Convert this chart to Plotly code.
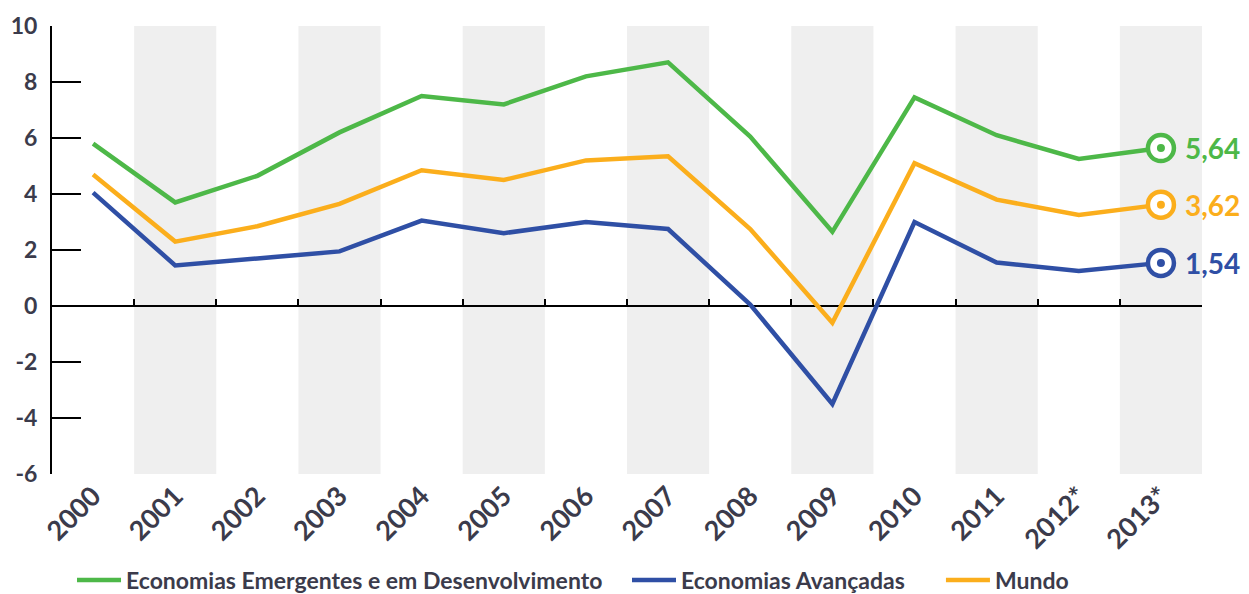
"""
Crescimento do PIB: economias emergentes, avançadas e mundo (2000-2013).
"""
import plotly.graph_objects as go

# Dados
ANOS = list(range(2000, 2014))
ROTULOS = ["2000", "2001", "2002", "2003", "2004", "2005", "2006",
           "2007", "2008", "2009", "2010", "2011", "2012*", "2013*"]
EMERGENTES = [5.8, 3.7, 4.65, 6.2, 7.5, 7.2, 8.2, 8.7, 6.05, 2.65, 7.45, 6.1, 5.25, 5.64]
AVANCADAS = [4.05, 1.45, 1.7, 1.95, 3.05, 2.6, 3.0, 2.75, 0.05, -3.5, 3.0, 1.55, 1.25, 1.54]
MUNDO = [4.7, 2.3, 2.85, 3.65, 4.85, 4.5, 5.2, 5.35, 2.75, -0.6, 5.1, 3.8, 3.25, 3.62]
TICKS_Y = [-6, -4, -2, 0, 2, 4, 6, 8, 10]

# (nome, valores, cor, legenda, posição x da legenda)
SERIES = [
    ("Economias Emergentes e em Desenvolvimento", EMERGENTES, "#4DB848", "legend", 0.0174),
    ("Economias Avançadas", AVANCADAS, "#2F4FA5", "legend2", 0.5),
    ("Mundo", MUNDO, "#FBAE1C", "legend3", 0.773),
]

Y_MIN, Y_MAX = -6, 10
FONTE = "Lato"
COR_TEXTO = "#3b3b4b"

fig = go.Figure()

for nome, valores, cor, leg, _ in SERIES:
    fig.add_trace(go.Scatter(
        x=ANOS, y=valores, name=nome, mode="lines", legend=leg,
        line=dict(color=cor, width=4.5),
        hovertemplate="%{x}: %{y:.2f}<extra>" + nome + "</extra>",
    ))

# Marcadores do último ano (anel branco + ponto central)
for nome, valores, cor, _, _ in SERIES:
    fig.add_trace(go.Scatter(
        x=[ANOS[-1]], y=[valores[-1]], mode="markers", showlegend=False,
        marker=dict(size=26, color="white", line=dict(color=cor, width=4.5)),
        hoverinfo="skip",
    ))
    fig.add_trace(go.Scatter(
        x=[ANOS[-1]], y=[valores[-1]], mode="markers", showlegend=False,
        marker=dict(size=8, color=cor),
        hoverinfo="skip",
    ))
    fig.add_annotation(
        x=ANOS[-1], y=valores[-1], xref="x", yref="y",
        text=f"{valores[-1]:.2f}".replace(".", ","),
        showarrow=False, xanchor="left", xshift=22,
        font=dict(family=FONTE, size=28, color=cor, weight="bold"),
    )

# Eixo auxiliar para a linha do zero
fig.add_trace(go.Scatter(
    x=[ANOS[0]], y=[0], xaxis="x2", mode="markers",
    marker=dict(opacity=0), showlegend=False, hoverinfo="skip",
))

# Faixas cinza nos anos alternados
for ano in ANOS[1::2]:
    fig.add_shape(
        type="rect", xref="x", yref="y",
        x0=ano - 0.5, x1=ano + 0.5, y0=Y_MIN, y1=Y_MAX,
        fillcolor="#efefef", line=dict(width=0), layer="below",
    )

legendas = {}
for _, _, _, leg, pos_x in SERIES:
    legendas[leg] = dict(
        orientation="h", x=pos_x, xanchor="left",
        yref="container", y=0.024, yanchor="middle",
        font=dict(family=FONTE, size=23, color=COR_TEXTO, weight="bold"),
        itemwidth=44, bgcolor="rgba(0,0,0,0)",
    )

fig.update_layout(
    width=1241, height=586,
    paper_bgcolor="white", plot_bgcolor="white",
    margin=dict(l=44, r=47, t=18, b=120),
    font=dict(family=FONTE, color=COR_TEXTO),
    xaxis=dict(
        range=[ANOS[0] - 0.5, ANOS[-1] + 0.5],
        tickvals=ANOS, ticktext=ROTULOS, tickangle=-45,
        tickfont=dict(family=FONTE, size=27, color=COR_TEXTO, weight="bold"),
        showgrid=False, zeroline=False, showline=False, ticks="",
        automargin=False,
    ),
    xaxis2=dict(
        overlaying="x", anchor="free", position=(0 - Y_MIN) / (Y_MAX - Y_MIN),
        range=[ANOS[0] - 0.5, ANOS[-1] + 0.5],
        tickvals=[a + 0.5 for a in ANOS[:-1]], ticks="inside", ticklen=6,
        tickwidth=2, tickcolor="black", showticklabels=False,
        showline=True, linecolor="black", linewidth=2,
        showgrid=False, zeroline=False, layer="below traces",
    ),
    yaxis=dict(
        range=[Y_MIN, Y_MAX], tickvals=TICKS_Y, ticktext=[str(v) for v in TICKS_Y],
        ticks="inside", ticklen=29,
        tickwidth=2, tickcolor="black", showline=True, linecolor="black",
        linewidth=2, showgrid=False, zeroline=False,
        ticklabelstandoff=8, automargin=False,
        tickfont=dict(family=FONTE, size=23, color=COR_TEXTO, weight="bold"),
    ),
    **legendas,
    showlegend=True,
)

fig.write_html("out.html")
